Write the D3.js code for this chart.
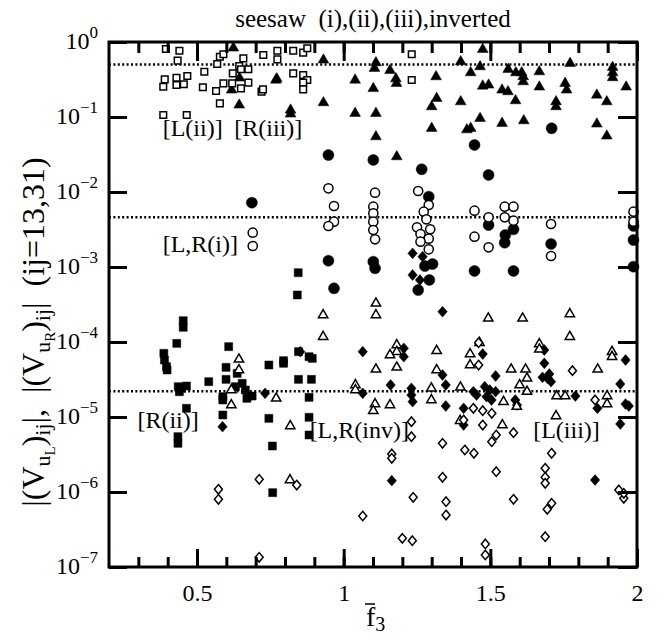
<!DOCTYPE html>
<html>
<head>
<meta charset="utf-8">
<script src="https://cdn.jsdelivr.net/npm/d3@7"></script>
<style>
body { margin: 0; background: #fff; }
text { font-family: "Liberation Serif", "Times New Roman", serif; fill: #000; }
</style>
</head>
<body>
<script>
// points are [f3bar, log10 |V|]
var openSquares = [[0.394,-0.093],[0.44,-0.116],[0.434,-0.249],[0.467,-0.453],[0.43,-0.476],[0.39,-0.498],[0.385,-0.596],[0.43,-0.573],[0.455,-0.564],[0.525,-0.396],[0.52,-0.604],[0.578,-0.196],[0.569,-0.293],[0.59,-0.164],[0.658,-0.218],[0.644,-0.32],[0.65,-0.364],[0.675,-0.364],[0.622,-0.418],[0.62,-0.551],[0.59,-0.551],[0.565,-0.653],[0.675,-0.542],[0.65,-0.618],[0.72,-0.662],[0.725,-0.631],[0.726,-0.173],[0.578,-0.818],[0.385,-0.973],[0.465,-0.973],[0.774,-0.116],[0.774,-0.231],[0.828,-0.116],[0.862,-0.142],[0.876,-0.084],[0.828,-0.418],[0.862,-0.44],[0.876,-0.507],[0.862,-0.542],[0.862,-0.631],[1.232,-0.164],[1.232,-0.507]];

var filledTriangles = [[0.624,-0.08],[0.618,-0.64],[0.644,-0.84],[0.772,-0.49],[0.645,-0.48],[0.931,-0.24],[0.769,-0.507],[0.931,-0.809],[0.819,-0.907],[0.819,-0.96],[1.039,-0.507],[1.039,-0.951],[1.101,-0.62],[1.11,-0.951],[1.11,-1.262],[1.11,-0.276],[1.105,-0.351],[1.158,-0.38],[1.178,-0.49],[1.18,-0.551],[1.315,-0.462],[1.317,-0.751],[1.30,-0.862],[1.399,-0.796],[1.399,-0.262],[1.30,-1.151],[1.42,-1.17],[1.474,-0.098],[1.465,-0.329],[1.433,-0.409],[1.561,-0.364],[1.587,-0.409],[1.607,-0.409],[1.612,-0.462],[1.612,-0.529],[1.667,-0.396],[1.772,-0.284],[1.917,-0.338],[1.917,-0.409],[1.917,-0.475],[1.474,-0.587],[1.494,-0.573],[1.54,-0.64],[1.56,-0.662],[1.667,-0.6],[1.586,-0.782],[1.755,-0.551],[1.76,-0.64],[1.724,-0.796],[1.724,-0.862],[1.863,-0.707],[1.897,-0.796],[1.963,-0.6],[1.465,-1.018],[1.433,-1.151],[1.54,-1.084],[1.614,-1.049],[1.863,-1.093],[1.897,-1.253],[1.181,-1.529]];

var openCircles = [[0.69,-2.542],[0.69,-2.72],[0.948,-1.951],[0.967,-2.187],[0.967,-2.396],[0.948,-2.453],[1.107,-2.009],[1.101,-2.196],[1.101,-2.284],[1.101,-2.396],[1.101,-2.507],[1.107,-2.631],[1.254,-1.987],[1.29,-2.173],[1.273,-2.262],[1.282,-2.364],[1.25,-2.471],[1.295,-2.497],[1.262,-2.56],[1.29,-2.622],[1.262,-2.662],[1.29,-2.764],[1.446,-2.249],[1.494,-2.338],[1.446,-2.596],[1.494,-2.738],[1.549,-2.196],[1.579,-2.196],[1.549,-2.338],[1.579,-2.382],[1.707,-2.427],[1.707,-2.853],[1.988,-2.262],[1.988,-2.396]];

var filledCircles = [[0.687,-2.142],[0.948,-1.507],[0.948,-2.916],[0.967,-3.284],[1.101,-1.573],[1.101,-2.929],[1.107,-3.017],[1.266,-1.697],[1.29,-2.062],[1.277,-2.987],[1.303,-2.96],[1.292,-3.173],[1.254,-3.307],[1.446,-1.373],[1.494,-1.773],[1.494,-2.44],[1.446,-3.053],[1.579,-2.498],[1.551,-2.573],[1.549,-2.676],[1.579,-3.053],[1.707,-2.693],[1.988,-2.453],[1.988,-2.64],[1.988,-2.996],[1.709,-1.151]];

var filledSquares = [[0.845,-3.076],[0.842,-3.373],[0.453,-3.716],[0.453,-3.804],[0.431,-4.018],[0.387,-4.151],[0.389,-4.24],[0.396,-4.329],[0.398,-4.373],[0.436,-4.596],[0.44,-4.663],[0.464,-4.587],[0.447,-4.617],[0.464,-4.884],[0.435,-5.262],[0.435,-5.351],[0.54,-4.529],[0.608,-4.062],[0.599,-4.338],[0.599,-4.498],[0.637,-4.418],[0.654,-4.551],[0.665,-4.64],[0.676,-4.72],[0.688,-4.72],[0.67,-4.751],[0.631,-4.596],[0.588,-4.729],[0.588,-4.773],[0.588,-4.973],[0.745,-4.307],[0.795,-4.249],[0.795,-4.284],[0.846,-4.129],[0.846,-4.498],[0.882,-4.196],[0.893,-4.218],[0.89,-4.498],[0.882,-4.738],[0.882,-5.004],[0.882,-5.24],[0.745,-5.018],[0.757,-5.387],[0.758,-6.009]];

var filledDiamonds = [[0.732,-4.684],[0.852,-4.129],[0.587,-5.129],[1.065,-4.129],[1.065,-4.684],[1.235,-2.818],[1.269,-2.862],[1.235,-3.107],[1.26,-3.173],[1.337,-3.596],[1.205,-4.084],[1.205,-4.196],[1.474,-4.16],[1.337,-4.44],[1.348,-4.573],[1.16,-4.573],[1.231,-4.617],[1.231,-4.707],[1.235,-4.796],[1.348,-4.853],[1.442,-4.662],[1.453,-4.707],[1.481,-4.596],[1.498,-4.64],[1.518,-4.662],[1.487,-4.729],[1.504,-4.773],[1.518,-4.453],[1.409,-4.884],[1.409,-5.107],[1.585,-4.773],[1.591,-4.84],[1.684,-4.107],[1.684,-4.284],[1.678,-4.471],[1.701,-4.427],[1.707,-4.529],[1.695,-4.484],[1.79,-4.72],[1.865,-4.884],[1.961,-4.24],[1.943,-4.56],[1.961,-4.827],[1.972,-4.853],[1.943,-5.093],[1.164,-5.849],[1.857,-5.84]];

var openTriangles = [[0.643,-4.231],[0.643,-4.373],[0.617,-4.64],[0.617,-4.84],[0.77,-4.751],[0.818,-5.12],[0.93,-3.64],[0.93,-3.929],[1.11,-3.484],[1.11,-3.64],[1.11,-4.364],[1.04,-4.573],[1.04,-4.64],[1.107,-4.827],[1.101,-4.916],[1.493,-3.684],[1.61,-3.684],[1.771,-3.627],[1.771,-3.929],[1.317,-4.116],[1.181,-4.04],[1.181,-4.129],[1.158,-4.173],[1.181,-4.338],[1.317,-4.373],[1.431,-4.16],[1.431,-4.307],[1.463,-4.009],[1.571,-4.364],[1.62,-4.364],[1.625,-4.484],[1.6,-4.573],[1.299,-4.617],[1.398,-4.604],[1.299,-4.773],[1.158,-4.84],[1.545,-4.796],[1.59,-4.862],[1.625,-4.662],[1.667,-4.027],[1.667,-4.098],[1.726,-4.72],[1.755,-4.72],[1.724,-4.987],[1.866,-4.364],[1.898,-4.72],[1.898,-4.827],[1.915,-4.129],[1.915,-4.196],[1.397,-5.049],[1.541,-5.107],[0.817,-5.84]];

var openDiamonds = [[0.573,-5.964],[0.573,-6.097],[0.712,-5.831],[0.712,-6.871],[0.84,-5.907],[1.065,-6.32],[1.46,-4.009],[1.46,-4.307],[1.231,-5.062],[1.231,-5.262],[1.442,-4.884],[1.474,-4.916],[1.505,-4.951],[1.474,-5.107],[1.52,-5.24],[1.505,-5.329],[1.579,-5.209],[1.337,-5.351],[1.78,-4.382],[1.857,-4.773],[1.409,-5.04],[1.164,-5.493],[1.164,-5.551],[1.413,-5.44],[1.444,-5.484],[1.709,-5.484],[1.337,-5.804],[1.52,-5.729],[1.687,-5.684],[1.687,-5.804],[1.687,-5.884],[1.237,-6.071],[1.349,-6.129],[1.349,-6.307],[1.579,-6.097],[1.709,-6.151],[1.694,-6.231],[1.938,-5.973],[1.955,-6.084],[1.955,-6.018],[1.2,-6.618],[1.234,-6.649],[1.483,-6.693],[1.483,-6.84],[1.687,-6.596]];

// horizontal dotted reference levels
var refLevels = [0.5, 4.6e-3, 2.2e-5];

var xMinor = d3.range(3, 20).map(function(i){ return i / 10; });
var xMajor = [0.5, 1, 1.5, 2];
var decades = [0, -1, -2, -3, -4, -5, -6, -7];

var labels = [
  {text: "[L(ii)]", f: 0.383, v: 0.0558},
  {text: "[R(iii)]", f: 0.627, v: 0.0558},
  {text: "[L,R(i)]", f: 0.383, v: 1.6e-3},
  {text: "[R(ii)]", f: 0.297, v: 7.1e-6},
  {text: "[L,R(inv)]", f: 0.884, v: 5.2e-6},
  {text: "[L(iii)]", f: 1.646, v: 5.2e-6}
];

var W = 667, H = 641;
var plotL = 109, plotR = 637, plotT = 42, plotB = 567;

var svg = d3.select("body").append("svg")
  .attr("width", W)
  .attr("height", H);

var x = d3.scaleLinear().domain([0.2, 2]).range([plotL, plotR]);
var y = d3.scaleLog().domain([1e-7, 1]).range([plotB, plotT]);

// title
svg.append("text")
  .attr("x", (plotL + plotR) / 2)
  .attr("y", 27)
  .attr("text-anchor", "middle")
  .style("font-size", "25px")
  .text("seesaw\u00a0\u00a0(i),(ii),(iii),inverted");

// dotted lines
svg.selectAll("line.ref").data(refLevels).enter()
  .append("line")
  .attr("x1", plotL).attr("x2", plotR)
  .attr("y1", function(d){ return y(d); })
  .attr("y2", function(d){ return y(d); })
  .attr("stroke", "#000")
  .attr("stroke-width", 2.5)
  .attr("stroke-dasharray", "2,2.4");

// markers
function diamond(w, h) {
  return { draw: function(ctx) {
    ctx.moveTo(0, -h); ctx.lineTo(w, 0); ctx.lineTo(0, h); ctx.lineTo(-w, 0); ctx.closePath();
  }};
}
function plot(data, type, size, filled) {
  svg.append("g").selectAll("path").data(data).enter()
    .append("path")
    .attr("d", d3.symbol().type(type).size(size))
    .attr("transform", function(d){ return "translate(" + x(d[0]) + "," + y(Math.pow(10, d[1])) + ")"; })
    .attr("fill", filled ? "#000" : "#fff")
    .attr("stroke", "#000")
    .attr("stroke-width", filled ? 0.5 : 1.5);
}

plot(filledSquares, d3.symbolSquare, 64, true);
plot(filledTriangles, d3.symbolTriangle, 50, true);
plot(filledCircles, d3.symbolCircle, 95, true);
plot(filledDiamonds, diamond(4.7, 5.4), 1, true);
plot(openTriangles, d3.symbolTriangle, 38, false);
plot(openDiamonds, diamond(4, 4.7), 1, false);
plot(openCircles, d3.symbolCircle, 66, false);
plot(openSquares, d3.symbolSquare, 44, false);

// annotations
svg.selectAll("text.lab").data(labels).enter()
  .append("text")
  .attr("x", function(d){ return x(d.f); })
  .attr("y", function(d){ return y(d.v); })
  .style("font-size", "24px")
  .text(function(d){ return d.text; });

// axes
function styleAxis(g) {
  g.select(".domain").remove();
  g.selectAll(".tick line").attr("stroke", "#000").attr("stroke-width", 3);
}
svg.append("g").attr("transform", "translate(0," + plotB + ")")
  .call(d3.axisBottom(x).tickValues(xMinor).tickSize(-10).tickFormat(""))
  .call(styleAxis);
svg.append("g").attr("transform", "translate(0," + plotB + ")")
  .call(d3.axisBottom(x).tickValues(xMajor).tickSize(-18).tickPadding(17).tickFormat(d3.format("")))
  .call(styleAxis)
  .selectAll("text")
  .style("font-size", "24px")
  .style("font-family", "'Liberation Serif', serif");
svg.append("g").attr("transform", "translate(0," + plotT + ")")
  .call(d3.axisTop(x).tickValues(xMinor).tickSize(-11).tickFormat(""))
  .call(styleAxis);
svg.append("g").attr("transform", "translate(0," + plotT + ")")
  .call(d3.axisTop(x).tickValues(xMajor).tickSize(-19).tickFormat(""))
  .call(styleAxis);
svg.append("g").attr("transform", "translate(" + plotL + ",0)")
  .call(d3.axisLeft(y).tickValues(decades.map(function(e){ return Math.pow(10, e); })).tickSize(-18).tickFormat(""))
  .call(styleAxis);
svg.append("g").attr("transform", "translate(" + plotR + ",0)")
  .call(d3.axisRight(y).tickValues(decades.map(function(e){ return Math.pow(10, e); })).tickSize(-19).tickFormat(""))
  .call(styleAxis);

svg.append("rect")
  .attr("x", plotL).attr("y", plotT)
  .attr("width", plotR - plotL).attr("height", plotB - plotT)
  .attr("fill", "none")
  .attr("stroke", "#000")
  .attr("stroke-width", 3);

// y tick labels 10^n
var yl = svg.selectAll("text.ylab").data(decades).enter()
  .append("text")
  .attr("x", plotL - 11)
  .attr("y", function(d){ return y(Math.pow(10, d)) + 7; })
  .attr("text-anchor", "end")
  .style("font-size", "24px");
yl.append("tspan").text("10");
yl.append("tspan")
  .attr("dy", -11)
  .style("font-size", "17px")
  .text(function(d){ return d === 0 ? "0" : "\u2212" + (-d); });

// x axis title: f-bar with subscript 3
var fx = 366, fy = 626;
svg.append("text").attr("x", fx).attr("y", fy).style("font-size", "28px")
  .text("f")
  .append("tspan").attr("dy", 5).style("font-size", "20px").text("3");
svg.append("line")
  .attr("x1", fx - 1).attr("x2", fx + 9)
  .attr("y1", fy - 22).attr("y2", fy - 22)
  .attr("stroke", "#000").attr("stroke-width", 1.5);

// y axis title
var yt = svg.append("text")
  .attr("transform", "translate(44,332) rotate(-90)")
  .attr("text-anchor", "middle")
  .style("font-size", "32px");
var parts = [
  ["|(V", 32, 0], ["u", 22, 6], ["L", 15, 5], [")", 32, -11], ["ij", 22, 6],
  ["|,\u00a0\u00a0|(V", 32, -6], ["u", 22, 6], ["R", 15, 5], [")", 32, -11], ["ij", 22, 6],
  ["|\u00a0\u00a0(ij=13,31)", 32, -6]
];
parts.forEach(function(p){
  yt.append("tspan").attr("dy", p[2]).style("font-size", p[1] + "px").text(p[0]);
});
</script>
</body>
</html>
